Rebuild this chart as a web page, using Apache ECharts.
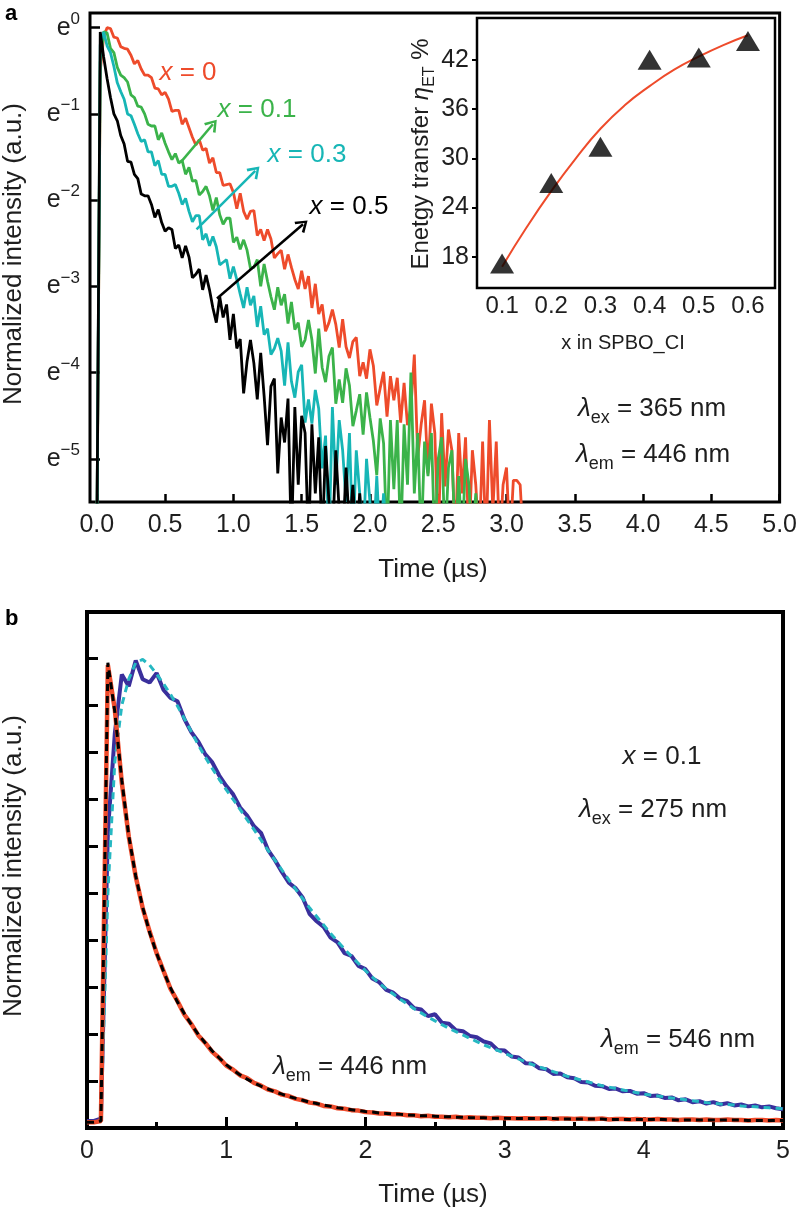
<!DOCTYPE html>
<html><head><meta charset="utf-8">
<script src="https://cdn.jsdelivr.net/npm/echarts@6/dist/echarts.min.js"></script>
<style>html,body{margin:0;padding:0;background:#fff}#c{width:800px;height:1214px}</style>
</head><body><div id="c"></div>
<script>
// ---------- Panel a: decay curves (ln of normalized intensity), sampled every DT_A µs ----------
const DT_A = 0.025;
const redA = [-6,-0.5,-0.1,0,-0.01,-0.11,-0.12,-0.22,-0.24,-0.25,
 -0.32,-0.42,-0.38,-0.48,-0.55,-0.55,-0.58,-0.7,-0.71,-0.78,
 -0.75,-0.83,-0.97,-0.96,-0.96,-1.12,-1.05,-1.16,-1.27,-1.36,
 -1.3,-1.42,-1.4,-1.57,-1.51,-1.68,-1.68,-1.83,-1.82,-1.81,
 -1.91,-2.1,-1.92,-2.13,-2.22,-2.13,-2.12,-2.41,-2.34,-2.47,
 -2.34,-2.45,-2.67,-2.62,-2.58,-2.8,-2.63,-2.78,-2.92,-3.03,
 -2.82,-3.03,-2.88,-3.25,-2.97,-3.32,-3.21,-3.52,-3.42,-3.27,
 -3.44,-3.71,-3.38,-3.7,-3.83,-3.64,-3.59,-4.04,-3.88,-4.07,
 -3.73,-3.92,-4.38,-4.18,-3.99,-4.51,-4.04,-4.32,-4.06,-4.58,
 -4.12,-4.61,-4.41,-3.79,-4.98,-4.6,-4.32,-5.17,-4.36,-4.7,
 -6,-4.47,-5.32,-4.66,-4.9,-6,-4.7,-5.4,-4.75,-6,
 -4.9,-5.3,-6,-4.8,-6,-4.55,-5.6,-4.8,-6,-5.3,
 -5.1,-6,-5.25,-5.25,-5.3,-6];
const greenA = [-6,-0.4,-0.05,-0.06,-0.24,-0.29,-0.46,-0.55,-0.58,-0.63,
 -0.78,-0.81,-0.91,-0.92,-1.0,-1.12,-1.14,-1.14,-1.3,-1.22,
 -1.34,-1.44,-1.53,-1.46,-1.57,-1.54,-1.7,-1.62,-1.78,-1.77,
 -1.94,-1.9,-1.84,-1.95,-2.12,-1.97,-2.17,-2.28,-2.21,-2.21,
 -2.49,-2.43,-2.57,-2.46,-2.58,-2.79,-2.78,-2.69,-3.0,-2.74,
 -2.94,-3.12,-3.27,-3.01,-3.22,-3.09,-3.43,-3.18,-3.5,-3.42,
 -3.7,-3.62,-3.39,-3.62,-4.01,-3.49,-3.94,-4.11,-3.81,-3.71,
 -4.36,-4.08,-4.35,-3.95,-4.15,-4.62,-4.44,-4.25,-4.72,-4.23,
 -4.52,-4.79,-5.19,-4.53,-4.82,-6,-4.55,-5.35,-4.55,-6,
 -4.6,-5.3,-4.0,-5.4,-4.7,-6,-4.8,-5.2,-4.7,-6,
 -5.0,-4.75,-6,-5.1,-4.9,-6,-5.2,-6,-5.0,-5.3,
 -6,-5.4,-6];
const cyanA = [-6,-0.2,-0.05,-0.21,-0.29,-0.45,-0.64,-0.74,-0.83,-1.0,
 -1.02,-1.12,-1.23,-1.32,-1.3,-1.44,-1.44,-1.6,-1.54,-1.7,
 -1.7,-1.84,-1.84,-1.82,-1.92,-2.05,-1.98,-2.13,-2.25,-2.18,
 -2.18,-2.46,-2.39,-2.53,-2.42,-2.54,-2.75,-2.72,-2.69,-2.91,
 -2.77,-2.92,-3.09,-3.25,-3.01,-3.22,-3.11,-3.47,-3.23,-3.56,
 -3.49,-3.79,-3.72,-3.6,-3.75,-4.15,-3.65,-4.1,-4.29,-3.99,
 -3.91,-4.58,-4.31,-4.59,-4.2,-4.42,-5.11,-4.73,-6,-4.4,
 -5.3,-4.55,-4.9,-5.5,-4.7,-6,-4.9,-5.4,-6,-5.0,
 -5.5,-6,-5.2,-6,-5.4,-6];
const blackA = [-6,-0.05,-0.34,-0.59,-0.81,-1.0,-1.08,-1.25,-1.35,-1.55,
 -1.56,-1.7,-1.75,-1.93,-1.95,-1.95,-2.05,-2.2,-2.11,-2.26,
 -2.36,-2.32,-2.34,-2.56,-2.52,-2.67,-2.53,-2.66,-2.9,-2.86,
 -2.8,-3.04,-2.87,-3.04,-3.25,-3.42,-3.12,-3.36,-3.21,-3.62,
 -3.32,-3.72,-3.61,-4.24,-3.87,-3.62,-3.89,-4.31,-3.77,-4.27,
 -4.84,-4.16,-4.07,-5.17,-4.52,-4.81,-4.3,-6,-4.4,-5.3,
 -4.5,-4.7,-6,-4.6,-5.4,-4.75,-6,-4.85,-5.5,-6,
 -4.9,-5.6,-6,-5.1,-5.8,-5.3,-6,-5.4,-6];
const xTicksA = [0,0.5,1,1.5,2,2.5,3,3.5,4,4.5,5];
const yTicksA = [0,-1,-2,-3,-4,-5];
// annotation arrows (data coordinates of panel a)
const arrowGreen = [[0.62,-1.55],[0.85,-1.12]];
const arrowCyan = [[0.73,-2.34],[1.16,-1.66]];
const arrowBlack = [[0.88,-3.14],[1.51,-2.28]];

// ---------- Inset: energy transfer efficiency ----------
const insetX = [0.1,0.2,0.3,0.4,0.5,0.6];
const insetY = [17.2,27.0,31.4,42.0,42.3,44.3];
const insetFitX = [0.1,0.15,0.2,0.25,0.3,0.35,0.4,0.45,0.5,0.55,0.6];
const insetFitY = [16.8,21.6,26.0,30.0,33.6,36.5,38.8,40.8,42.4,43.8,45.0];
const insetXTicks = [0.1,0.2,0.3,0.4,0.5,0.6];
const insetYTicks = [18,24,30,36,42];

// ---------- Panel b: normalized intensity, sampled every DT_B µs ----------
const DT_B = 0.05;
const redB = [0.012,0.012,0.015,0.985,0.89,0.735,0.62,0.535,0.468,0.418,
 0.372,0.334,0.296,0.27,0.241,0.221,0.197,0.181,0.162,0.149,
 0.133,0.124,0.112,0.106,0.096,0.09,0.082,0.078,0.071,0.068,
 0.062,0.059,0.054,0.052,0.047,0.046,0.042,0.041,0.038,0.037,
 0.034,0.033,0.031,0.031,0.029,0.029,0.027,0.027,0.025,0.026,
 0.024,0.024,0.023,0.024,0.022,0.023,0.022,0.022,0.021,0.022,
 0.021,0.021,0.02,0.021,0.02,0.02,0.021,0.019,0.02,0.02,
 0.019,0.02,0.019,0.019,0.02,0.018,0.019,0.019,0.018,0.019,
 0.018,0.018,0.019,0.018,0.018,0.017,0.018,0.018,0.017,0.018,
 0.017,0.017,0.018,0.017,0.017,0.016,0.017,0.017,0.016,0.017,
 0.016];
const redFitB = [0.012,0.012,0.015,0.99,0.885,0.74,0.622,0.536,0.47,0.416,
 0.372,0.333,0.298,0.268,0.243,0.22,0.199,0.181,0.164,0.149,
 0.135,0.123,0.113,0.104,0.096,0.089,0.083,0.077,0.072,0.067,
 0.063,0.059,0.055,0.052,0.049,0.046,0.043,0.041,0.039,0.037,
 0.035,0.034,0.032,0.031,0.03,0.029,0.028,0.027,0.026,0.026,
 0.025,0.024,0.024,0.023,0.023,0.022,0.022,0.022,0.021,0.021,
 0.021,0.02,0.02,0.02,0.02,0.02,0.02,0.02,0.019,0.019,
 0.019,0.019,0.019,0.019,0.019,0.018,0.018,0.018,0.018,0.018,
 0.018,0.018,0.018,0.018,0.017,0.017,0.017,0.017,0.017,0.017,
 0.017,0.017,0.017,0.017,0.017,0.016,0.016,0.016,0.016,0.016,
 0.016];
const blueB = [0.015,0.015,0.02,0.63,0.84,0.965,0.94,0.995,0.955,0.948,
 0.968,0.932,0.915,0.908,0.87,0.842,0.822,0.795,0.778,0.75,
 0.728,0.71,0.682,0.665,0.642,0.628,0.592,0.57,0.545,0.522,
 0.51,0.49,0.455,0.44,0.428,0.405,0.395,0.372,0.366,0.345,
 0.338,0.318,0.31,0.294,0.288,0.275,0.27,0.255,0.252,0.238,
 0.242,0.224,0.222,0.208,0.206,0.196,0.193,0.184,0.18,0.166,
 0.165,0.152,0.15,0.138,0.137,0.127,0.125,0.115,0.116,0.108,
 0.106,0.098,0.097,0.09,0.089,0.083,0.084,0.078,0.079,0.073,
 0.074,0.068,0.069,0.064,0.065,0.059,0.061,0.055,0.057,0.052,
 0.055,0.05,0.053,0.048,0.05,0.046,0.048,0.044,0.046,0.042,
 0.04];
const blueFitB = [0.012,0.012,0.015,0.5,0.78,0.9,0.955,0.99,0.997,0.985,
 0.966,0.945,0.923,0.898,0.871,0.843,0.815,0.789,0.765,0.742,
 0.72,0.699,0.678,0.656,0.635,0.613,0.591,0.57,0.549,0.528,
 0.508,0.488,0.468,0.45,0.432,0.414,0.397,0.381,0.365,0.35,
 0.335,0.321,0.308,0.296,0.285,0.274,0.264,0.254,0.245,0.236,
 0.228,0.22,0.212,0.205,0.198,0.191,0.184,0.177,0.171,0.165,
 0.159,0.153,0.147,0.141,0.135,0.13,0.125,0.12,0.115,0.11,
 0.106,0.102,0.098,0.094,0.09,0.087,0.084,0.081,0.078,0.075,
 0.072,0.07,0.068,0.066,0.064,0.062,0.06,0.058,0.056,0.054,
 0.053,0.051,0.05,0.049,0.047,0.046,0.045,0.044,0.043,0.042,
 0.041];
const yTicksB = [0.1,0.2,0.3,0.4,0.5,0.6,0.7,0.8,0.9,1.0];

// ---------- rendering ----------
const FF = "'Liberation Sans', Arial, Helvetica, sans-serif";
const TXT = '#1e1e1e';
const C_RED = '#ee4b2b', C_GREEN = '#3bb34a', C_CYAN = '#17b6b6', C_BLACK = '#000000';
const C_BLUE = '#3a2f9c', C_CYANF = '#26b8c2';
const pairs = (arr, dt) => arr.map((v, i) => [Math.round(i * dt * 1000) / 1000, v]);
const zip = (xs, ys) => xs.map((x, i) => [x, ys[i]]);
const chevron = 'path://M0,10 L5,0 L10,10 L8.4,11.2 L5,3.8 L1.6,11.2 Z';

function arrowLine(coords, color) {
  return {
    silent: true, animation: false,
    symbol: ['none', chevron], symbolSize: [15, 12],
    lineStyle: { color: color, width: 2.5, type: 'solid' },
    label: { show: false },
    emphasis: { disabled: true },
    data: [[{ coord: coords[0] }, { coord: coords[1] }]]
  };
}

const bigRich = {
  t: { fontSize: 26, fontFamily: FF, fill: TXT, lineHeight: 36, verticalAlign: 'middle' },
  i: { fontSize: 26, fontFamily: FF, fill: TXT, fontStyle: 'italic', lineHeight: 36, verticalAlign: 'middle' },
  s: { fontSize: 18, fontFamily: FF, fill: TXT, lineHeight: 18, verticalAlign: 'bottom' }
};
function richColor(c) {
  return {
    t: { fontSize: 26, fontFamily: FF, fill: c, lineHeight: 32, verticalAlign: 'middle' },
    i: { fontSize: 26, fontFamily: FF, fill: c, fontStyle: 'italic', lineHeight: 32, verticalAlign: 'middle' }
  };
}
function txt(x, y, text, rich, extra) {
  return Object.assign({
    type: 'text', x: x, y: y, silent: true,
    style: { text: text, rich: rich, align: 'center', verticalAlign: 'middle', fontFamily: FF }
  }, extra || {});
}
function plain(x, y, text, size, rot) {
  return { type: 'text', x: x, y: y, rotation: rot || 0, silent: true,
    style: { text: text, fontSize: size, fontFamily: FF, fill: TXT, align: 'center', verticalAlign: 'middle' } };
}
const lam = (sub, rest) => '{i|λ}{s|' + sub + '}{t| = ' + rest + '}';

const chart = echarts.init(document.getElementById('c'), null, { renderer: 'canvas' });
const option = {
  backgroundColor: '#ffffff',
  animation: false,
  textStyle: { fontFamily: FF },
  grid: [
    { left: 90, top: 13, width: 693, height: 489, show: true, borderColor: '#000', borderWidth: 3, backgroundColor: 'transparent' },
    { left: 477, top: 18, width: 298, height: 270, show: true, borderColor: '#000', borderWidth: 2.5, backgroundColor: '#fff' },
    { left: 87, top: 612, width: 696, height: 516, show: true, borderColor: '#000', borderWidth: 4, backgroundColor: 'transparent' }
  ],
  xAxis: [
    { gridIndex: 0, type: 'value', min: -0.05, max: 5,
      axisLine: { show: false, onZero: false },
      axisTick: { show: true, inside: true, length: 8, customValues: xTicksA, lineStyle: { color: '#000', width: 2.5 } },
      axisLabel: { customValues: xTicksA, formatter: v => v.toFixed(1), fontSize: 25, color: TXT, margin: 11, fontFamily: FF },
      splitLine: { show: false } },
    { gridIndex: 1, type: 'value', min: 0.049, max: 0.655,
      axisLine: { show: false, onZero: false },
      axisTick: { show: false },
      axisLabel: { customValues: insetXTicks, formatter: v => v.toFixed(1), fontSize: 24, color: TXT, margin: 6, fontFamily: FF },
      splitLine: { show: false } },
    { gridIndex: 2, type: 'value', min: 0, max: 5, interval: 1,
      axisLine: { show: false, onZero: false },
      axisTick: { show: true, inside: true, length: 11, lineStyle: { color: '#000', width: 3 } },
      minorTick: { show: true, splitNumber: 2, length: 6, lineStyle: { color: '#000', width: 3 } },
      axisLabel: { fontSize: 25, color: TXT, margin: 11, fontFamily: FF },
      splitLine: { show: false } }
  ],
  yAxis: [
    { gridIndex: 0, type: 'value', min: -5.5, max: 0.17,
      axisLine: { show: false, onZero: false },
      axisTick: { show: true, inside: true, length: 10, customValues: yTicksA, lineStyle: { color: '#000', width: 2.5 } },
      axisLabel: { customValues: yTicksA, margin: 10,
        formatter: v => '{e|e}{s|' + (Math.round(v) === 0 ? '0' : '−' + Math.abs(Math.round(v))) + '}',
        rich: {
          e: { fontSize: 25, color: TXT, fontFamily: FF, lineHeight: 34, verticalAlign: 'middle' },
          s: { fontSize: 17, color: TXT, fontFamily: FF, lineHeight: 17, verticalAlign: 'top' }
        } },
      splitLine: { show: false } },
    { gridIndex: 1, type: 'value', min: 14.2, max: 47.1,
      axisLine: { show: false, onZero: false },
      axisTick: { show: true, inside: false, length: 5, customValues: insetYTicks, lineStyle: { color: '#000', width: 2 } },
      axisLabel: { customValues: insetYTicks, fontSize: 25, color: TXT, margin: 8, fontFamily: FF },
      splitLine: { show: false } },
    { gridIndex: 2, type: 'value', min: 0, max: 1.098,
      axisLine: { show: false, onZero: false },
      axisTick: { show: true, inside: true, length: 11, customValues: yTicksB, lineStyle: { color: '#000', width: 3 } },
      axisLabel: { show: false },
      splitLine: { show: false } }
  ],
  series: [
    { type: 'line', xAxisIndex: 0, yAxisIndex: 0, data: pairs(redA, DT_A), showSymbol: false, lineStyle: { color: C_RED, width: 2.8 }, itemStyle: { color: C_RED }, z: 2 },
    { type: 'line', xAxisIndex: 0, yAxisIndex: 0, data: pairs(greenA, DT_A), showSymbol: false, lineStyle: { color: C_GREEN, width: 2.8 }, itemStyle: { color: C_GREEN }, z: 3,
      markLine: arrowLine(arrowGreen, C_GREEN) },
    { type: 'line', xAxisIndex: 0, yAxisIndex: 0, data: pairs(cyanA, DT_A), showSymbol: false, lineStyle: { color: C_CYAN, width: 2.8 }, itemStyle: { color: C_CYAN }, z: 4,
      markLine: arrowLine(arrowCyan, C_CYAN) },
    { type: 'line', xAxisIndex: 0, yAxisIndex: 0, data: pairs(blackA, DT_A), showSymbol: false, lineStyle: { color: C_BLACK, width: 2.8 }, itemStyle: { color: C_BLACK }, z: 5,
      markLine: arrowLine(arrowBlack, C_BLACK) },
    { type: 'line', xAxisIndex: 1, yAxisIndex: 1, data: zip(insetFitX, insetFitY), smooth: true, showSymbol: false, lineStyle: { color: C_RED, width: 2 }, itemStyle: { color: C_RED }, z: 6 },
    { type: 'scatter', xAxisIndex: 1, yAxisIndex: 1, data: zip(insetX, insetY), symbol: 'triangle', symbolSize: [24, 20], itemStyle: { color: '#000' }, z: 7 },
    { type: 'line', xAxisIndex: 2, yAxisIndex: 2, data: pairs(blueB, DT_B), showSymbol: false, lineStyle: { color: C_BLUE, width: 4 }, itemStyle: { color: C_BLUE }, z: 2 },
    { type: 'line', xAxisIndex: 2, yAxisIndex: 2, data: pairs(blueFitB, DT_B), showSymbol: false, lineStyle: { color: C_CYANF, width: 3, type: [7, 5] }, itemStyle: { color: C_CYANF }, z: 3 },
    { type: 'line', xAxisIndex: 2, yAxisIndex: 2, data: pairs(redB, DT_B), showSymbol: false, lineStyle: { color: C_RED, width: 4.5 }, itemStyle: { color: C_RED }, z: 4 },
    { type: 'line', xAxisIndex: 2, yAxisIndex: 2, data: pairs(redFitB, DT_B), showSymbol: false, lineStyle: { color: '#000', width: 3, type: [7, 5] }, itemStyle: { color: '#000' }, z: 5 }
  ],
  graphic: [
    { type: 'text', x: 5, y: 3, silent: true, style: { text: 'a', fontSize: 22, fontWeight: 'bold', fontFamily: FF, fill: '#000' } },
    { type: 'text', x: 5, y: 608, silent: true, style: { text: 'b', fontSize: 22, fontWeight: 'bold', fontFamily: FF, fill: '#000' } },
    plain(14, 254, 'Normalized intensity (a.u.)', 26, Math.PI / 2),
    plain(14, 866, 'Normalized intensity (a.u.)', 26, Math.PI / 2),
    plain(433, 570, 'Time (µs)', 26),
    plain(433, 1195, 'Time (µs)', 26),
    plain(623, 343, 'x in SPBO_CI', 20),
    { type: 'text', x: 421, y: 154, rotation: Math.PI / 2, silent: true,
      style: { text: '{t|Enetgy transfer }{i|η}{s|ET}{t| %}', align: 'center', verticalAlign: 'middle',
        rich: {
          t: { fontSize: 24, fontFamily: FF, fill: TXT, lineHeight: 34, verticalAlign: 'middle' },
          i: { fontSize: 24, fontFamily: FF, fill: TXT, fontStyle: 'italic', lineHeight: 34, verticalAlign: 'middle' },
          s: { fontSize: 16, fontFamily: FF, fill: TXT, lineHeight: 16, verticalAlign: 'bottom' }
        } } },
    txt(188, 73, '{i|x}{t| = 0}', richColor(C_RED)),
    txt(257, 110, '{i|x}{t| = 0.1}', richColor(C_GREEN)),
    txt(307, 155, '{i|x}{t| = 0.3}', richColor(C_CYAN)),
    txt(349, 207, '{i|x}{t| = 0.5}', richColor(C_BLACK)),
    txt(652, 409, lam('ex', '365 nm'), bigRich),
    txt(653, 455, lam('em', '446 nm'), bigRich),
    txt(662, 757, '{i|x}{t| = 0.1}', richColor(TXT)),
    txt(653, 810, lam('ex', '275 nm'), bigRich),
    txt(350, 1067, lam('em', '446 nm'), bigRich),
    txt(678, 1040, lam('em', '546 nm'), bigRich)
  ]
};
chart.setOption(option);
</script>
</body></html>
